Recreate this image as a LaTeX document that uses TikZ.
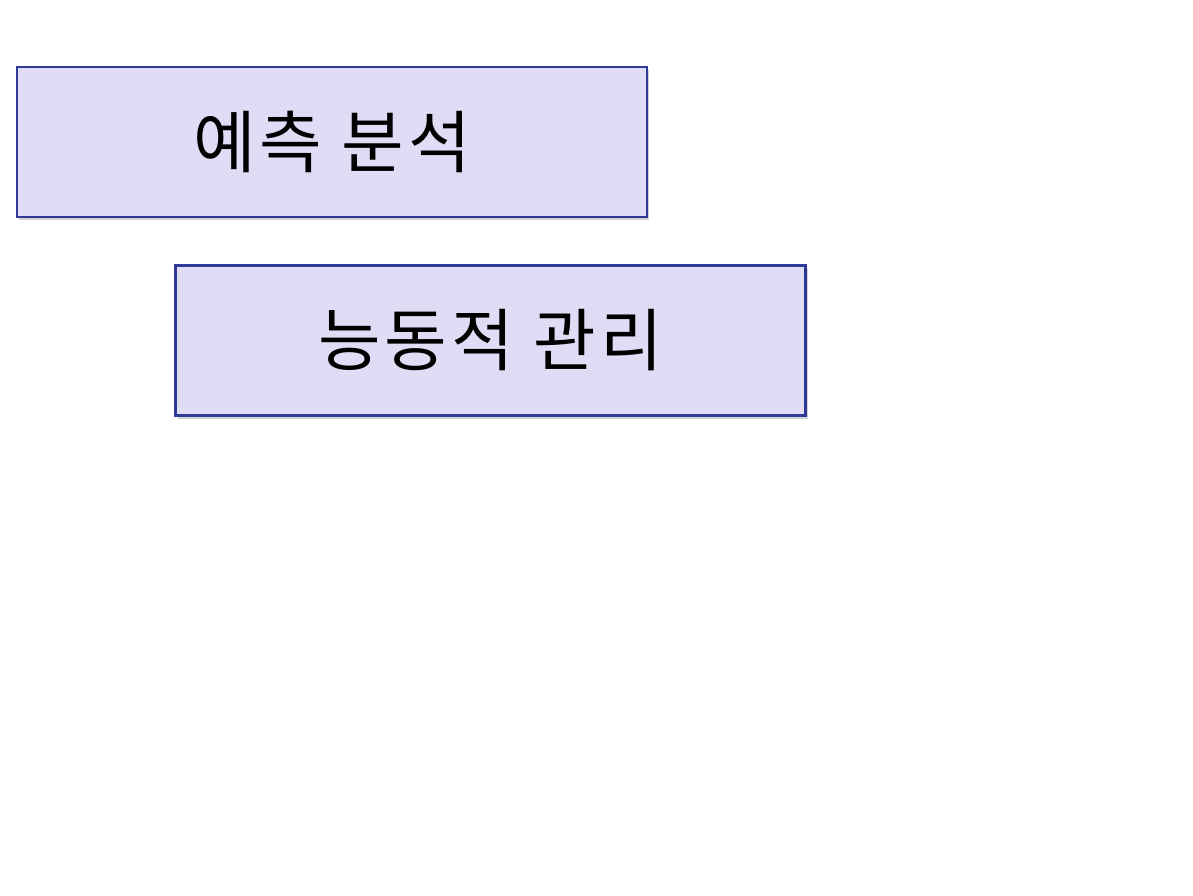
\documentclass[tikz,border=0pt]{standalone}
\usepackage{fontspec}
\setmainfont[LetterSpace=6]{Noto Sans CJK KR}
\usetikzlibrary{shadows}
\definecolor{boxfill}{HTML}{E1DCF6}
\definecolor{boxline}{HTML}{2E3A95}
\tikzset{box/.style={draw=boxline,line width=2.5pt,fill=boxfill,minimum width=630pt,minimum height=150pt,inner sep=0pt,
  drop shadow={shadow xshift=2pt,shadow yshift=-3pt,opacity=0.35},font=\fontsize{68}{80}\selectfont}}
\begin{document}
\begin{tikzpicture}[x=1pt,y=-1pt]
\useasboundingbox[fill=white] (0,0) rectangle (1193,896);
\node(P)[box] at (332,142) {예측 분석};
\node(A)[box] at (490.5,340.5) {능동적 관리};
%\draw[->] (P) -- (A);
\end{tikzpicture}
\end{document}
